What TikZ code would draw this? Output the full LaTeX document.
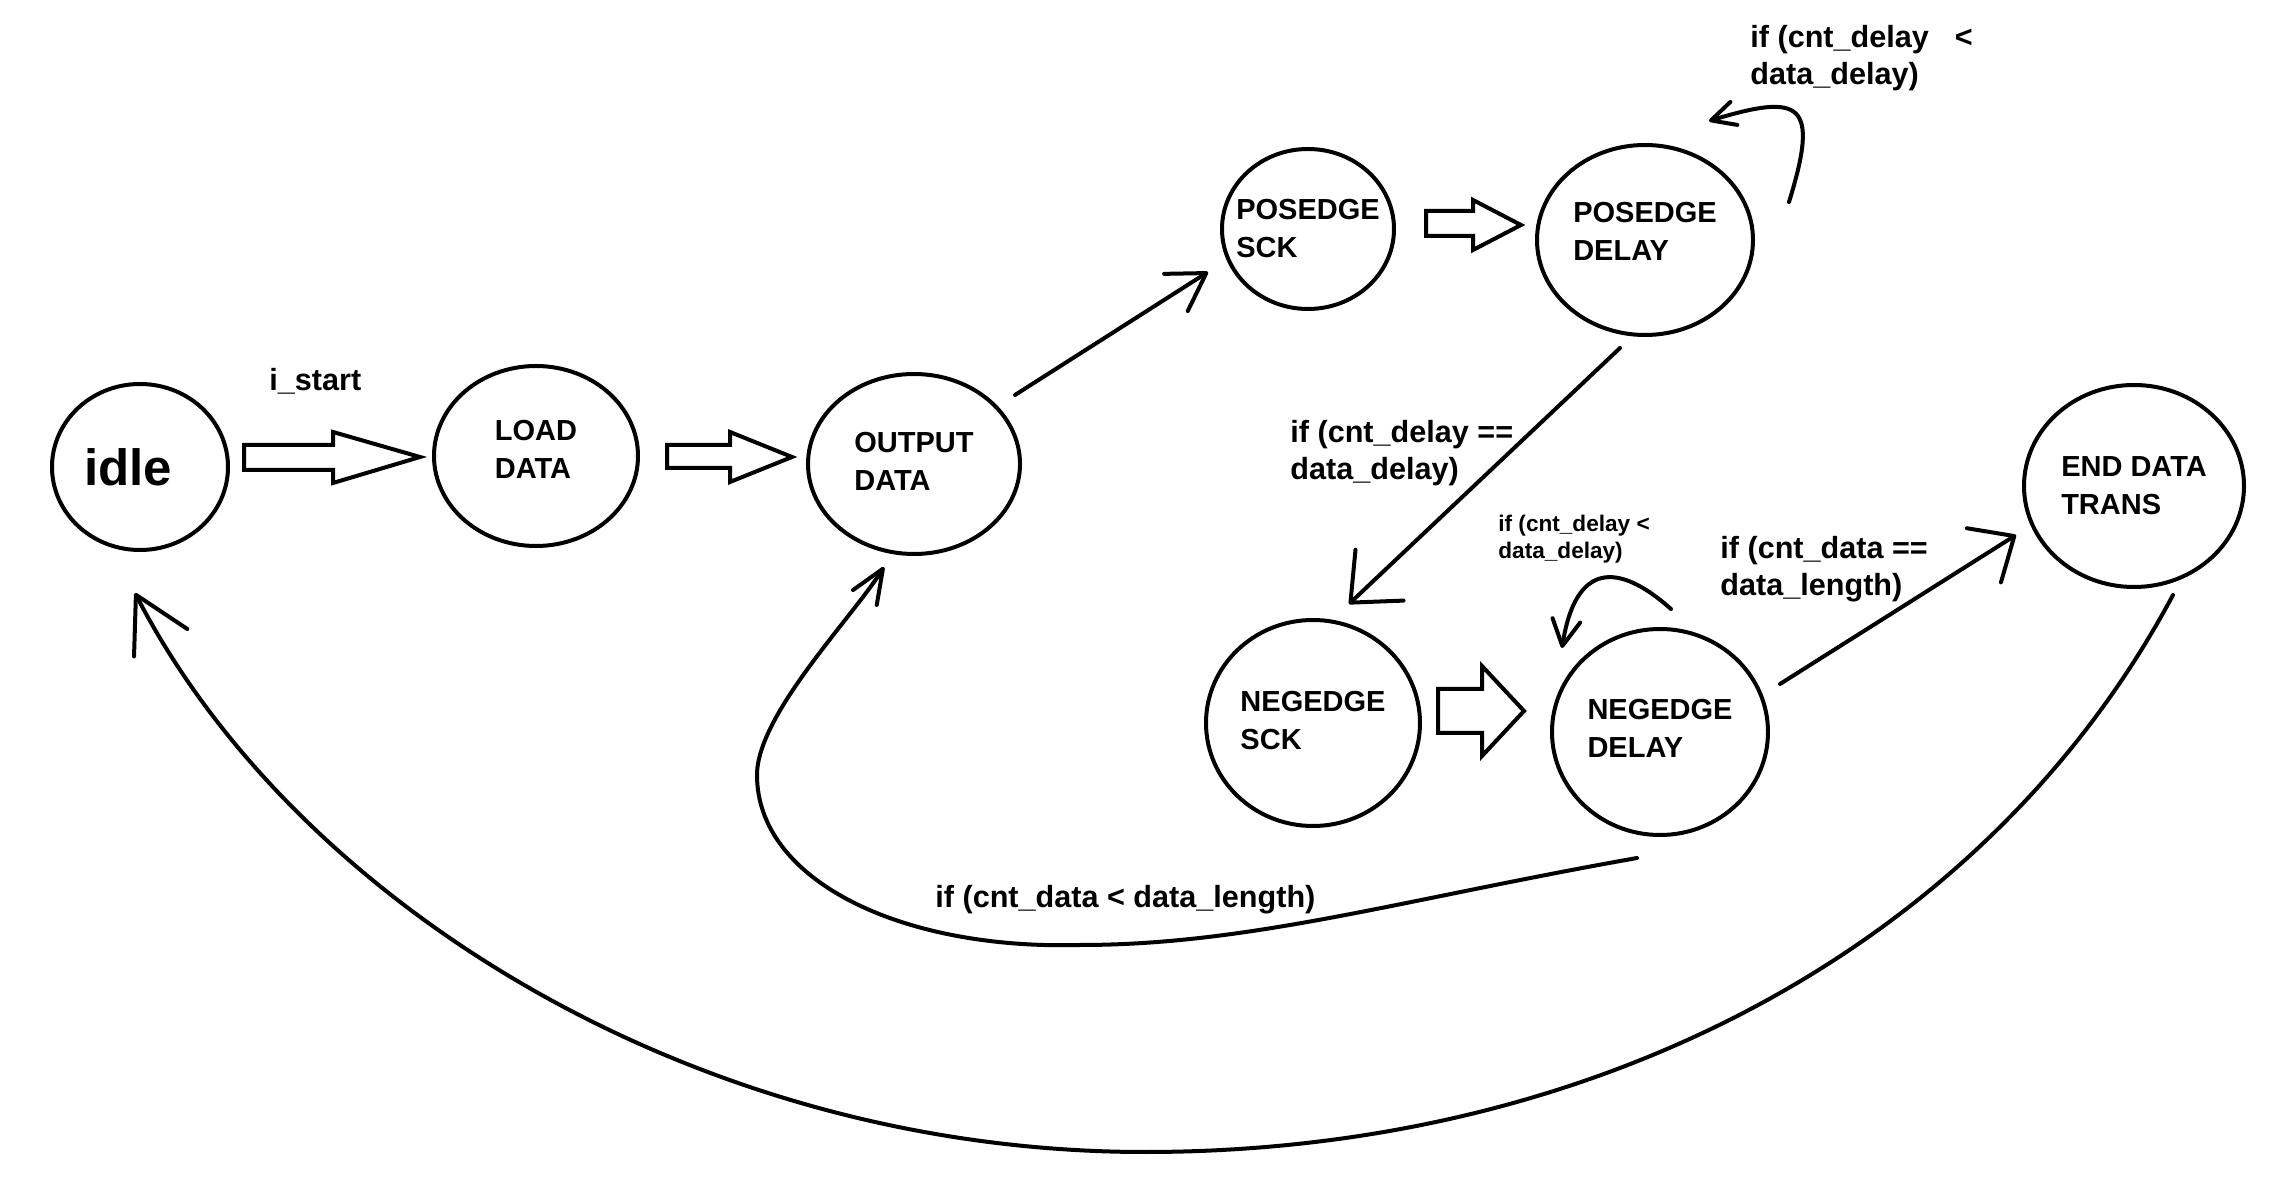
\documentclass[tikz,border=0pt]{standalone}
\usepackage{fontspec}
\setmainfont{Liberation Sans}
\usetikzlibrary{shapes.geometric,arrows.meta,calc}

\tikzset{
  state/.style={ellipse, draw, line width=2pt, inner sep=0pt, align=left,
    font=\fontsize{14.5}{19}\selectfont\bfseries},
  cond/.style={inner sep=0pt, align=left, font=\fontsize{15.3}{18.5}\selectfont\bfseries},
  link/.style 2 args={line width=2pt, line cap=round,
    -{Straight Barb[length=#1,width=#2,round]}},
  fat/.style={draw, line width=2pt, line join=miter},
}

\begin{document}
\begin{tikzpicture}[x=0.5pt,y=0.5pt,yscale=-1]
\useasboundingbox (0,0) rectangle (2272,1202);

% states
\node[state, minimum width=88pt, minimum height=83pt] (idle) at (140,467) {\fontsize{25.5}{30}\selectfont\kern-6pt idle\kern6pt};
\node[state, minimum width=102pt, minimum height=90pt] (load) at (536,456) {LOAD\\DATA\rule[-7pt]{0pt}{7pt}};
\node[state, minimum width=106pt, minimum height=90pt] (out) at (914,464) {OUTPUT\\DATA\rule[-3pt]{0pt}{3pt}};
\node[state, minimum width=86pt, minimum height=80pt, inner xsep=-6pt] (posck) at (1308,229) {POSEDGE\\SCK};
\node[state, minimum width=108pt, minimum height=95pt] (posdly) at (1645,240) {POSEDGE\\DELAY\rule[-9pt]{0pt}{9pt}};
\node[state, minimum width=107pt, minimum height=103pt] (negck) at (1313,723) {NEGEDGE\\SCK\rule[-3pt]{0pt}{3pt}};
\node[state, minimum width=108pt, minimum height=103pt] (negdly) at (1660,732) {NEGEDGE\\DELAY\rule[-4pt]{0pt}{4pt}};
\node[state, minimum width=110pt, minimum height=101pt] (enddt) at (2134,486) {END DATA\\TRANS};

% hollow block arrows
\draw[fat] ($(idle)+(104,-22)$) -- ++(89,0) -- ++(0,-13) -- ++(87,25) -- ++(-87,26) -- ++(0,-13) -- ++(-89,0) -- cycle;
\draw[fat] ($(load)+(131,-11)$) -- ++(63,0) -- ++(0,-13) -- ++(62,25) -- ++(-62,25) -- ++(0,-14) -- ++(-63,0) -- cycle;
\draw[fat] ($(posck)+(118,-18)$) -- ++(47,0) -- ++(0,-11) -- ++(48,25) -- ++(-48,25) -- ++(0,-14) -- ++(-47,0) -- cycle;
\draw[fat] ($(negck)+(125,-34)$) -- ++(44,0) -- ++(0,-23) -- ++(42,45) -- ++(-42,45) -- ++(0,-23) -- ++(-44,0) -- cycle;

% transitions
\draw[link={18pt}{22pt}] ($(out)+(101,-69)$) -- ($(posck)+(-100,43)$);
\draw[link={20pt}{35pt}] ($(posdly)+(-25,108)$) -- ($(negck)+(36,-119)$);
\draw[link={18pt}{32pt}] ($(negdly)+(120,-48)$) -- ($(enddt)+(-118,49)$);
\draw[link={12pt}{12pt}] ($(posdly)+(144,-38)$) .. controls +(31,-100) and +(92,-28) .. ($(posdly)+(64,-119)$);
\draw[link={13pt}{14pt}] ($(negdly)+(11,-123)$) .. controls +(-45,-40) and +(15,-95) .. ($(negdly)+(-98,-84)$);
\draw[link={17pt}{14pt}] ($(negdly)+(-23,126)$) .. controls +(-237,42) and +(170,0) .. (1080,945)
  .. controls +(-180,5) and +(0,105) .. (757,775) .. controls +(0,-60) and +(-32,51) .. ($(out)+(-30,103)$);
\draw[link={27pt}{30pt}] ($(enddt)+(39,109)$) .. controls +(-188,352) and +(450,0) .. (1145,1152)
  .. controls +(-450,0) and +(160,310) .. ($(idle)+(-5,126)$);

% conditions
\node[cond, anchor=base west] (istart) at (269,391) {i\_start};
\node[cond, anchor=north west] (cposwait) at (1750,25) {if (cnt\_delay\hspace{13pt}\textless\\data\_delay)};
\node[cond, anchor=north west] (cposdone) at (1290,420) {if (cnt\_delay ==\\data\_delay)};
\node[cond, anchor=north west, font=\fontsize{11.3}{13.5}\selectfont\bfseries] (cnegwait) at (1498,515) {if (cnt\_delay \textless\\data\_delay)};
\node[cond, anchor=north west] (cnegdone) at (1720,536) {if (cnt\_data ==\\data\_length)};
\node[cond, anchor=base west] (cmore) at (935,908) {if (cnt\_data \textless\ data\_length)};
\end{tikzpicture}
\end{document}
